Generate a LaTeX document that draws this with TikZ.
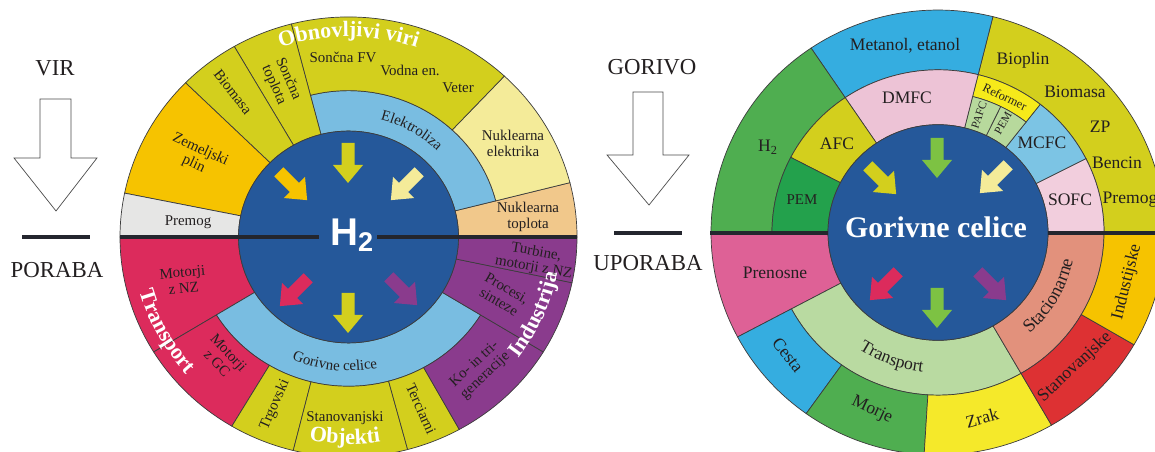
\documentclass[tikz,border=0pt]{standalone}
\usepackage{fontspec}
\setmainfont{Liberation Serif}
\newfontfamily\hsans{Liberation Sans}
\usetikzlibrary{decorations.text}

\definecolor{hblue}{HTML}{25589A}
\definecolor{ringblue}{HTML}{79BDE1}
\definecolor{renew}{HTML}{D3CF1D}
\definecolor{gas}{HTML}{F6C300}
\definecolor{coal}{HTML}{E6E6E5}
\definecolor{nucel}{HTML}{F4EB99}
\definecolor{nuctop}{HTML}{F1C88B}
\definecolor{transp}{HTML}{DC2B5C}
\definecolor{indus}{HTML}{8A3B8D}
\definecolor{fuelgreen}{HTML}{4FAE50}
\definecolor{pemgreen}{HTML}{23A14C}
\definecolor{methblue}{HTML}{35ADE0}
\definecolor{dmfcpink}{HTML}{EDC3D6}
\definecolor{reformer}{HTML}{F6EA1A}
\definecolor{pafcgreen}{HTML}{B7D99C}
\definecolor{mcfcblue}{HTML}{7CC4E4}
\definecolor{sofcpink}{HTML}{F2CEDD}
\definecolor{portpink}{HTML}{DE6196}
\definecolor{trring}{HTML}{B9DAA1}
\definecolor{statsalmon}{HTML}{E2917C}
\definecolor{airyellow}{HTML}{F5E92A}
\definecolor{homered}{HTML}{DD3133}
\definecolor{arrowgreen}{HTML}{7DC243}
\definecolor{sepline}{HTML}{3C3C3C}
\definecolor{txt}{HTML}{231F20}
\definecolor{barline}{HTML}{24262E}

\newcommand{\wsmall}{\fontsize{8.5}{9}\selectfont}
\newcommand{\wring}{\fontsize{8.5}{9}\selectfont\color{txt}}
\newcommand{\wmed}{\fontsize{10}{11}\selectfont}
\newcommand{\wtiny}{\fontsize{6.5}{7}\selectfont}
\newcommand{\whead}{\fontsize{12.5}{13}\selectfont\bfseries\color{white}}
\newcommand{\wside}{\fontsize{13}{14}\selectfont}

% ring piece: start angle, end angle, inner radius, outer radius, colour
\newcommand{\ringsector}[5]{\filldraw[sector, fill=#5] (#1:#3) arc[start angle=#1, end angle=#2, radius=#3] -- (#2:#4) arc[start angle=#2, end angle=#1, radius=#4] -- cycle;}
% block arrow: x, y, direction, colour
\newcommand{\fatarrow}[4]{\fill[#4, shift={(#1,#2)}, rotate=#3] (-20,-6.5) -- (2,-6.5) -- (2,-15) -- (20,0) -- (2,15) -- (2,6.5) -- (-20,6.5) -- cycle;}

\tikzset{
  sector/.style={draw=sepline, line width=0.4pt},
  lbl/.style={font=\wsmall, text=txt, align=center, inner sep=0pt},
  rlbl/.style={font=\wmed, text=txt, align=center, inner sep=0pt},
  side/.style={font=\wside, text=txt, inner sep=0pt},
  bar/.style={barline, line width=2.3pt},
  hollow/.style={draw=black!70, line width=0.4pt, fill=white},
  curved/.style={decorate, decoration={text along path, text align=center, text={#1}}}
}

\begin{document}
\begin{tikzpicture}[x=0.02cm, y=0.02cm]
\useasboundingbox (0,0) rectangle (1155,452);
\clip (0,0) rectangle (1155,452);

% left wheel
\begin{scope}[shift={(348.5,215)}, yscale=0.963]
\ringsector{0}{14.3}{110}{228.5}{nuctop}
\ringsector{14.3}{104.5}{110}{152}{ringblue}
\ringsector{14.3}{47}{152}{228.5}{nucel}
\ringsector{47}{104.5}{152}{228.5}{renew}
\ringsector{104.5}{120}{110}{228.5}{renew}
\ringsector{120}{135.5}{110}{228.5}{renew}
\ringsector{135.5}{168.5}{110}{228.5}{gas}
\ringsector{168.5}{180}{110}{228.5}{coal}

\ringsector{180}{211.5}{110}{228.5}{transp}
\ringsector{211.5}{328.5}{110}{155}{ringblue}
\ringsector{211.5}{239.3}{155}{228.5}{transp}
\ringsector{239.3}{256}{155}{228.5}{renew}
\ringsector{256}{285}{155}{228.5}{renew}
\ringsector{285}{299}{155}{228.5}{renew}
\ringsector{299}{328.5}{155}{228.5}{indus}
\ringsector{328.5}{348}{110}{228.5}{indus}
\ringsector{348}{360}{110}{228.5}{indus}

\filldraw[sector, fill=hblue] (0,0) circle[radius=110];

\path[curved={|\whead|Obnovljivi viri}] (130:208) arc[start angle=130, end angle=50, radius=208];
\path[curved={|\wring|Elektroliza}] (100:126) arc[start angle=100, end angle=20, radius=126];
\path[curved={|\wring|Gorivne celice}] (224:139) arc[start angle=224, end angle=304, radius=139];
\path[curved={|\whead|Transport}] (168:216) arc[start angle=168, end angle=248, radius=216];
\path[curved={|\whead|Industrija}] (297:212) arc[start angle=297, end angle=377, radius=212];
\path[curved={|\whead|Objekti}] (229:215) arc[start angle=229, end angle=309, radius=215];
\end{scope}

% right wheel
\begin{scope}[shift={(938,219.5)}, yscale=0.98]
\ringsector{0}{76}{166}{227}{renew}
\ringsector{76}{124}{166}{227}{methblue}
\ringsector{124}{180}{166}{227}{fuelgreen}
\ringsector{0}{27}{110}{166}{sofcpink}
\ringsector{27}{52}{110}{166}{mcfcblue}
\ringsector{52}{76}{143}{166}{reformer}
\ringsector{52}{64}{110}{143}{pafcgreen}
\ringsector{64}{76}{110}{143}{pafcgreen}
\ringsector{76}{124}{110}{166}{dmfcpink}
\ringsector{124}{152.5}{110}{166}{renew}
\ringsector{152.5}{180}{110}{166}{pemgreen}

\ringsector{180}{208}{110}{227}{portpink}
\ringsector{208}{300}{110}{166}{trring}
\ringsector{300}{360}{110}{166}{statsalmon}
\ringsector{208}{234.5}{166}{227}{methblue}
\ringsector{234.5}{266.5}{166}{227}{fuelgreen}
\ringsector{266.5}{300}{166}{227}{airyellow}
\ringsector{300}{329.7}{166}{227}{homered}
\ringsector{329.7}{360}{166}{227}{gas}

\filldraw[sector, fill=hblue] (0,0) circle[radius=110];

\path[curved={|\wmed\color{txt}|Transport}] (210:143) arc[start angle=210, end angle=290, radius=143];
\path[curved={|\fontsize{10.5}{11}\selectfont\color{txt}|Stacionarne}] (290:138) arc[start angle=290, end angle=370, radius=138];
\end{scope}

% dividing lines
\draw[bar] (120,215) -- (319,215);
\draw[bar] (377,215) -- (577,215);
\draw[bar] (710,219) -- (828,219);
\draw[bar] (1048,219) -- (1155,219);

% arrows in the middle
\foreach \x/\y/\a/\c in {348/289/-90/renew, 293/266/-45/gas, 405/266/-135/nucel,
  294/160/-135/transp, 348/139/-90/renew, 403/161/-45/indus}
  \fatarrow{\x}{\y}{\a}{\c};
\foreach \x/\y/\a/\c in {937/294/-90/arrowgreen, 882/272/-45/renew, 994/273/-135/nucel,
  884/166/-135/transp, 937/144/-90/arrowgreen, 992/166/-45/indus}
  \fatarrow{\x}{\y}{\a}{\c};

\node[text=white, font=\hsans\bfseries\fontsize{22}{22}\selectfont, inner sep=0pt] (htwo) at (352,217) {H\textsubscript{2}};
\node[text=white, font=\fontsize{17}{18}\selectfont\bfseries, inner sep=0pt] (fuelcell) at (936,225) {Gorivne celice};

% left wheel labels
\node[lbl] (coalL) at (188,230) {Premog};
\node[lbl, rotate=-25] (gasL) at (197,295) {Zemeljski\\plin};
\node[lbl, rotate=-52] (bioL) at (233,360) {Biomasa};
\node[lbl, rotate=-66] (solheat) at (281,370) {Sončna\\toplota};
\node[lbl] (solpv) at (343,395) {Sončna FV};
\node[lbl] (hydro) at (410,382) {Vodna en.};
\node[lbl] (wind) at (458,364) {Veter};
\node[lbl] (nucel) at (513,309) {Nuklearna\\elektrika};
\node[lbl] (nucheat) at (528,235) {Nuklearna\\toplota};
\node[lbl, rotate=5] (iceNZ) at (183,172) {Motorji\\z NZ};
\node[lbl, rotate=-47] (iceGC) at (223,94) {Motorji\\z GC};
\node[lbl, rotate=66] (shops) at (275,47) {Trgovski};
\node[lbl] (homes) at (345,34) {Stanovanjski};
\node[lbl, rotate=-66] (tert) at (421,43) {Terciarni};
\node[lbl, rotate=43] (cogen) at (480,82) {Ko- in tri-\\generacije};
\node[lbl, rotate=-30] (proc) at (503,157) {Procesi,\\sinteze};
\node[lbl, rotate=-10] (turb) at (535,192) {Turbine,\\motorji z NZ};

% right wheel labels
\node[rlbl] (htwoR) at (768,305) {H\textsubscript{2}};
\node[rlbl] (meth) at (905,406) {Metanol, etanol};
\node[rlbl] (biogas) at (1023,392) {Bioplin};
\node[rlbl] (bioR) at (1075,360) {Biomasa};
\node[rlbl] (ng) at (1100,325) {ZP};
\node[rlbl] (petrol) at (1117,289) {Bencin};
\node[rlbl] (coalR) at (1130,252) {Premog};
\node[rlbl] (afc) at (837,308) {AFC};
\node[lbl] (pemA) at (802,252) {PEM};
\node[rlbl] (dmfc) at (907,354) {DMFC};
\node[lbl, font=\fontsize{7}{7}\selectfont, rotate=-26] (ref) at (1005,355) {Reformer};
\node[lbl, font=\wtiny, rotate=71] (pafc) at (979,337) {PAFC};
\node[lbl, font=\wtiny, rotate=60] (pemB) at (1003,329) {PEM};
\node[rlbl] (mcfc) at (1042,309) {MCFC};
\node[rlbl] (sofc) at (1070,252) {SOFC};
\node[rlbl] (port) at (775,179) {Prenosne};
\node[rlbl, rotate=-52] (road) at (788,97) {Cesta};
\node[rlbl, rotate=-25] (sea) at (872,42) {Morje};
\node[rlbl, rotate=15] (air) at (982,34) {Zrak};
\node[rlbl, rotate=43] (homesR) at (1075,85) {Stanovanjske};
\node[rlbl, rotate=76] (indR) at (1127,170) {Industijske};

% side legends
\node[side] (src) at (55,384) {VIR};
\draw[hollow] (40,353) -- (71,353) -- (71,294) -- (97,294) -- (56,241) -- (14,294) -- (40,294) -- cycle;
\draw[bar] (22,215) -- (90,215);
\node[side] (use) at (57,182) {PORABA};

\node[side] (fuel) at (652,385) {GORIVO};
\draw[hollow] (633,360) -- (663,360) -- (663,297) -- (689,297) -- (649,247) -- (607,297) -- (633,297) -- cycle;
\draw[bar] (614,219) -- (682,219);
\node[side] (appl) at (648,189) {UPORABA};
\end{tikzpicture}
\end{document}
